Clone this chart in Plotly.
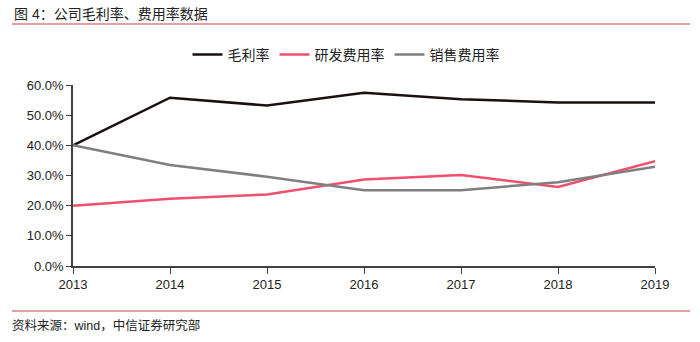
import plotly.graph_objects as go

years = [2013, 2014, 2015, 2016, 2017, 2018, 2019]
gross_margin = [40.0, 55.8, 53.2, 57.4, 55.3, 54.2, 54.2]
rd_rate = [20.0, 22.3, 23.7, 28.7, 30.2, 26.2, 34.7]
sales_rate = [40.0, 33.5, 29.6, 25.1, 25.1, 27.8, 32.9]
y_ticks = [0, 10, 20, 30, 40, 50, 60]
y_labels = ["0.0%", "10.0%", "20.0%", "30.0%", "40.0%", "50.0%", "60.0%"]

FONT = "Liberation Sans, Arial, Noto Sans CJK SC"

fig = go.Figure()
fig.add_trace(go.Scatter(x=years, y=gross_margin, mode="lines", name="毛利率",
                         line=dict(color="#1a1010", width=2.5)))
fig.add_trace(go.Scatter(x=years, y=rd_rate, mode="lines", name="研发费用率",
                         line=dict(color="#f0506e", width=2.5)))
fig.add_trace(go.Scatter(x=years, y=sales_rate, mode="lines", name="销售费用率",
                         line=dict(color="#7f7f7f", width=2.5)))

fig.update_layout(
    width=700, height=342,
    margin=dict(l=73, r=45, t=85, b=76, autoexpand=False),
    paper_bgcolor="white", plot_bgcolor="white",
    font=dict(family=FONT, size=13, color="#222222"),
    showlegend=True,
    legend=dict(orientation="h", x=(346-73)/582, xanchor="center", y=1 + (85-55)/181, yanchor="middle",
                yref="paper", font=dict(size=14, color="#222222")),
    xaxis=dict(range=[2013, 2019], tickvals=years, ticktext=[str(y) for y in years],
               showgrid=False, zeroline=False, showline=True, linecolor="#404040",
               linewidth=1.5, ticks="outside", ticklen=6, tickcolor="#404040",
               tickfont=dict(size=13, color="#222222")),
    yaxis=dict(range=[0, 60], tickvals=y_ticks, ticktext=y_labels,
               showgrid=False, zeroline=False, showline=True, linecolor="#404040",
               linewidth=1.5, ticks="outside", ticklen=5, tickcolor="#404040",
               tickfont=dict(size=13, color="#222222")),
)

fig.add_annotation(text="图 4：公司毛利率、费用率数据", xref="paper", yref="paper",
                   x=-61/582, y=1 + (85-14)/181, xanchor="left", yanchor="middle",
                   showarrow=False, font=dict(size=14, color="#222222", family=FONT))
fig.add_annotation(text="资料来源：wind，中信证券研究部", xref="paper", yref="paper",
                   x=-63/582, y=-(325-266)/181, xanchor="left", yanchor="middle",
                   showarrow=False, font=dict(size=12.5, color="#222222", family=FONT))
fig.add_shape(type="line", xref="paper", yref="paper",
              x0=-61/582, x1=1 + 35/582, y0=1 + (85-24)/181, y1=1 + (85-24)/181,
              line=dict(color="#d98080", width=1.5))
fig.add_shape(type="line", xref="paper", yref="paper",
              x0=-61/582, x1=1 + 35/582, y0=-(311-266)/181, y1=-(311-266)/181,
              line=dict(color="#d98080", width=1.5))

fig.write_html("out.html")
